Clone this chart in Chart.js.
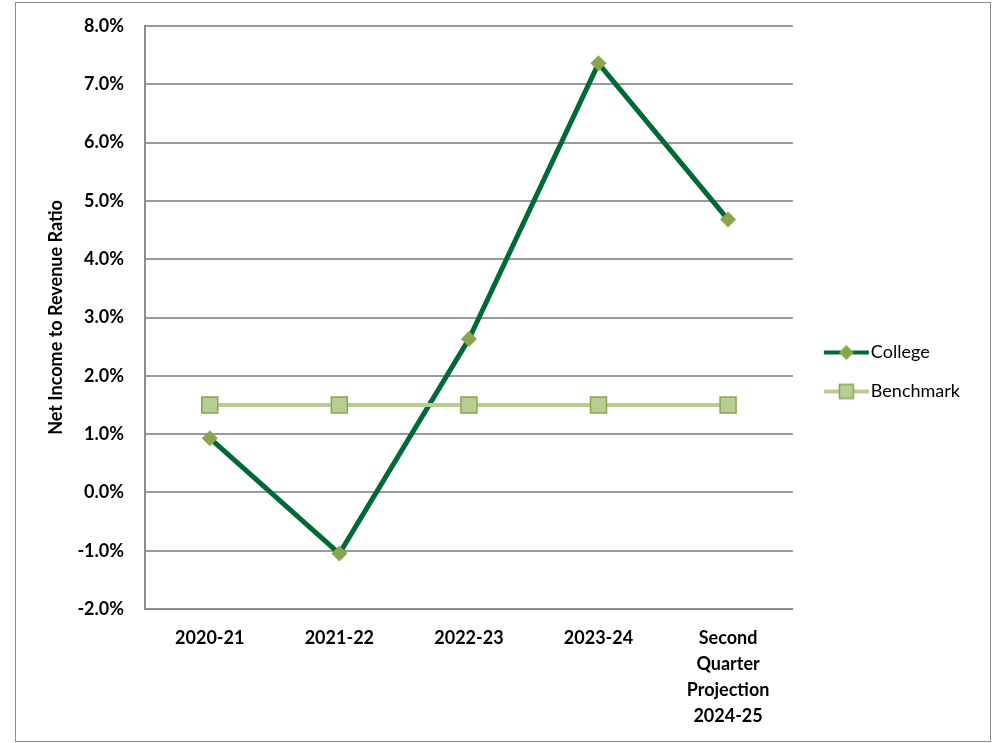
<!DOCTYPE html>
<html>
<head>
<meta charset="utf-8">
<script src="https://cdn.jsdelivr.net/npm/chart.js@4.4.1/dist/chart.umd.min.js"></script>
<style>
  html, body { margin: 0; padding: 0; background: #fff; }
  #frame {
    position: absolute; left: 15px; top: 2px;
    width: 976px; height: 740px;
    border: 1px solid #8c8c8c; box-sizing: border-box;
  }
  #ratio { display: block; }
</style>
</head>
<body>
<div id="frame"><canvas id="ratio" width="974" height="738"></canvas></div>
<script>
/* Dane wykresu */
var years = ['2020-21', '2021-22', '2022-23', '2023-24', ['Second', 'Quarter', 'Projection', '2024-25']];
var dataCollege = [0.93, -1.05, 2.63, 7.36, 4.68];
var dataBenchmark = [1.5, 1.5, 1.5, 1.5, 1.5];

var darkGreen = '#006a37';
var olive = '#8aa54b';
var paleGreen = '#b8cd94';

/* Ikonki legendy: linia z markerem */
function legendIcon(kind) {
    var c = document.createElement('canvas');
    c.width = 66;
    c.height = 20;
    var g = c.getContext('2d');
    var x0 = 19, x1 = 64, cx = (x0 + x1) / 2, cy = 10;
    g.lineWidth = 4;
    g.strokeStyle = kind === 'diamond' ? darkGreen : paleGreen;
    g.beginPath();
    g.moveTo(x0, cy);
    g.lineTo(x1, cy);
    g.stroke();
    if (kind === 'diamond') {
        g.fillStyle = olive;
        g.beginPath();
        g.moveTo(cx, cy - 7.5);
        g.lineTo(cx + 7.5, cy);
        g.lineTo(cx, cy + 7.5);
        g.lineTo(cx - 7.5, cy);
        g.closePath();
        g.fill();
    } else {
        g.fillStyle = paleGreen;
        g.strokeStyle = olive;
        g.lineWidth = 1.5;
        g.fillRect(cx - 7, cy - 7, 14, 14);
        g.strokeRect(cx - 7, cy - 7, 14, 14);
    }
    return c;
}

var icons = [legendIcon('diamond'), legendIcon('square')];

var ctxRatio = document.getElementById('ratio');

var chartRatio = new Chart(ctxRatio, {
    type: 'line',
    data: {
        labels: years,
        datasets: [
            {
                label: 'College',
                data: dataCollege,
                borderColor: darkGreen,
                borderWidth: 5,
                pointStyle: 'rectRot',
                pointRadius: 8,
                pointBackgroundColor: olive,
                pointBorderColor: olive,
                pointBorderWidth: 0,
                tension: 0,
                order: 2
            },
            {
                label: 'Benchmark',
                data: dataBenchmark,
                borderColor: paleGreen,
                borderWidth: 4,
                pointStyle: 'rect',
                pointRadius: 11.3,
                pointBackgroundColor: paleGreen,
                pointBorderColor: olive,
                pointBorderWidth: 1.5,
                tension: 0,
                order: 1
            }
        ]
    },
    options: {
        responsive: false,
        maintainAspectRatio: false,
        animation: false,
        events: [],
        layout: {
            padding: { left: 0, top: 15, right: 20, bottom: 15 }
        },
        plugins: {
            tooltip: { enabled: false },
            legend: {
                position: 'right',
                labels: {
                    usePointStyle: true,
                    pointStyleWidth: 48,
                    padding: 21,
                    color: '#000',
                    font: { family: 'Lato', size: 18 },
                    generateLabels: function (chart) {
                        return chart.data.datasets.map(function (ds, i) {
                            return {
                                text: ds.label,
                                pointStyle: icons[i],
                                datasetIndex: i,
                                fontColor: '#000',
                                lineWidth: 0,
                                hidden: false
                            };
                        });
                    }
                }
            }
        },
        scales: {
            x: {
                offset: true,
                afterFit: function (scale) { scale.height = 117; },
                grid: { display: false, drawTicks: false, offset: true },
                border: { color: '#8c8c8c', width: 2 },
                ticks: {
                    color: '#000',
                    padding: 16,
                    maxRotation: 0,
                    autoSkip: false,
                    font: { family: 'Lato', size: 18, weight: 'bold', lineHeight: 1.45 }
                }
            },
            y: {
                min: -2,
                max: 8,
                afterFit: function (scale) {
                    // stała szerokość osi i górny margines obszaru wykresu
                    scale.width = 129;
                    scale.paddingTop = 23;
                    scale.paddingBottom = 10;
                },
                grid: { color: '#9a9a9a', lineWidth: 2, drawTicks: false },
                border: { color: '#8c8c8c', width: 2 },
                ticks: {
                    stepSize: 1,
                    color: '#000',
                    padding: 21,
                    font: { family: 'Lato', size: 18, weight: 'bold' },
                    callback: function (v) { return v.toFixed(1) + '%'; }
                },
                title: {
                    display: true,
                    text: 'Net Income to Revenue Ratio',
                    color: '#000',
                    padding: { top: 29, bottom: 0 },
                    font: { family: 'Lato', size: 18, weight: 'bold' }
                }
            }
        }
    }
});
</script>
</body>
</html>
